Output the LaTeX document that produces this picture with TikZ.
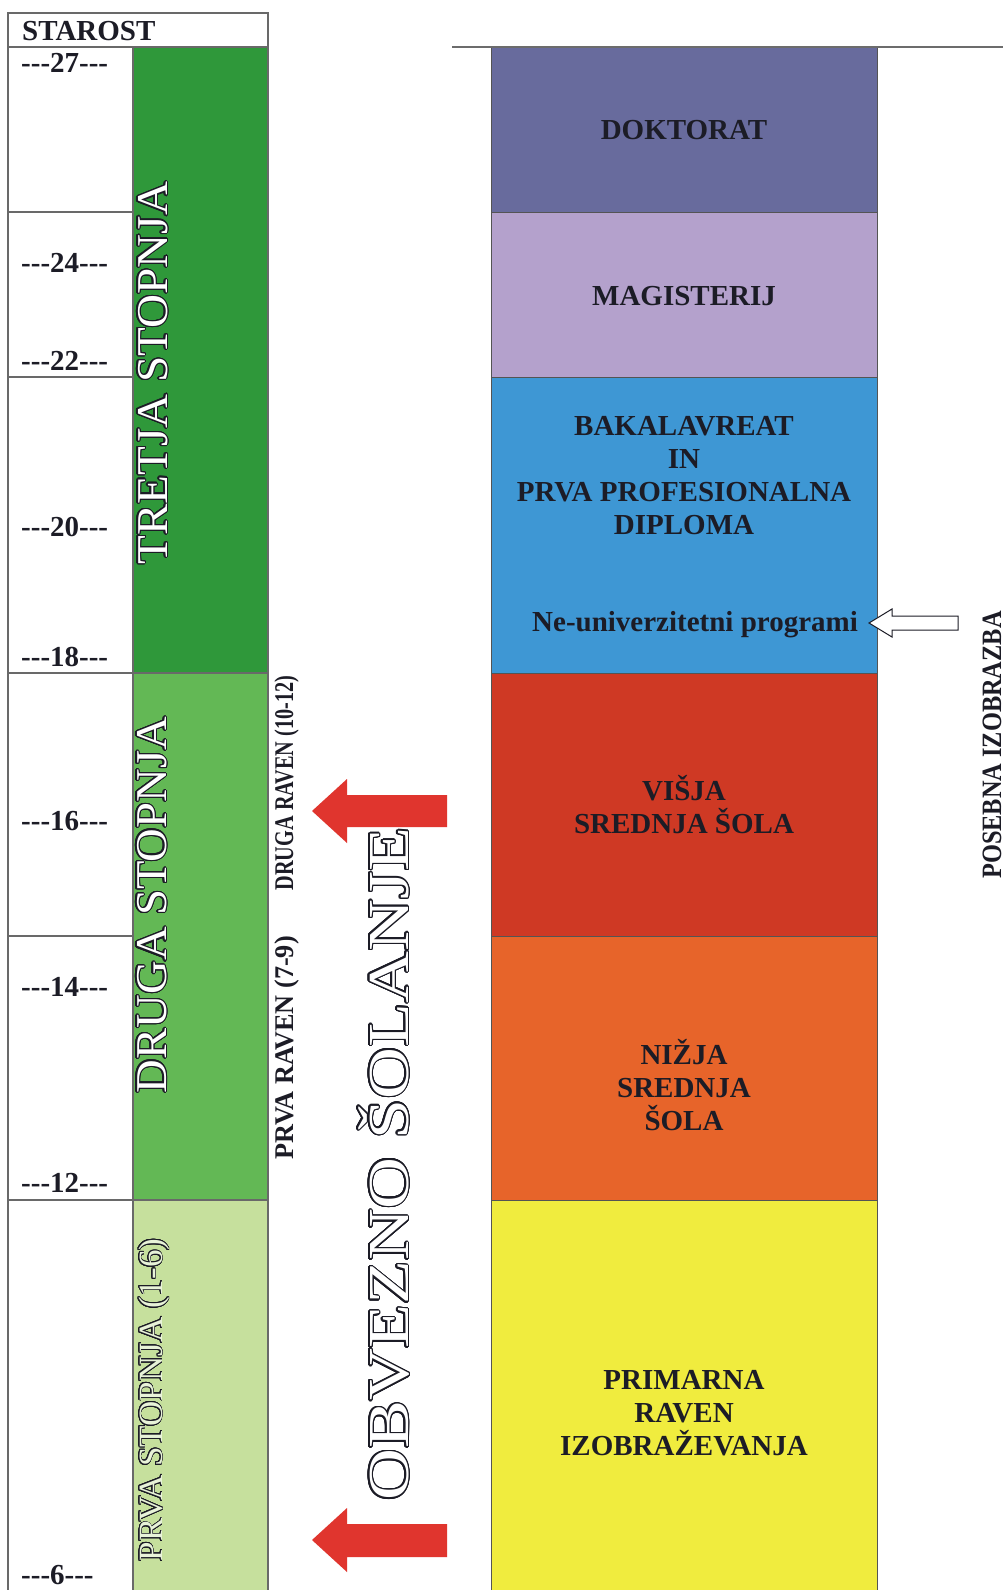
\documentclass[tikz,border=0pt]{standalone}
\usepackage{fontspec}
\usepackage{graphicx}
\usepackage{contour}
\newfontfamily\tms{Liberation Serif}
\contournumber{24}
\definecolor{doktc}{RGB}{104,107,157}
\definecolor{magc}{RGB}{180,161,204}
\definecolor{bakc}{RGB}{62,151,212}
\definecolor{visc}{RGB}{207,57,36}
\definecolor{nizc}{RGB}{231,100,42}
\definecolor{primc}{RGB}{240,236,62}
\definecolor{tretc}{RGB}{47,152,58}
\definecolor{drugc}{RGB}{99,184,85}
\definecolor{prvc}{RGB}{198,224,157}
\definecolor{arrowred}{RGB}{224,53,46}
\definecolor{txtc}{RGB}{28,28,38}
\definecolor{gridc}{RGB}{105,105,105}
\begin{document}
\begin{tikzpicture}[x=1pt,y=-1pt,
  gridl/.style={draw=gridc, line width=1.2pt},
  boxs/.style={draw=gridc!80!black, line width=1pt},
  lbl/.style={font=\tms\bfseries\fontsize{29}{33}\selectfont, text=txtc, align=center, inner sep=0pt},
  age/.style={font=\tms\bfseries\fontsize{29}{33}\selectfont, text=txtc, anchor=west, inner sep=0pt},
  vlbl/.style={rotate=90, anchor=base, inner sep=0pt, text=txtc},
  otext/.style={rotate=90, anchor=base, inner sep=0pt, text=white}
]
\clip (0,0) rectangle (1008,1590);
\fill[white] (0,0) rectangle (1008,1590);
% left table fills
\fill[tretc] (133,47) rectangle (268,673);
\fill[drugc] (133,673) rectangle (268,1200);
\fill[prvc] (133,1200) rectangle (268,1600);
% left table lines
\draw[gridl] (8,1600) -- (8,13) -- (268,13) -- (268,1600);
\draw[gridl] (8,47) -- (268,47);
\draw[gridl] (133,47) -- (133,1600);
\foreach \yy in {212,377,673,936,1200} \draw[gridl] (8,\yy) -- (133,\yy);
\draw[gridl] (133,673) -- (268,673);
\draw[gridl] (133,1200) -- (268,1200);
% right column boxes
\filldraw[boxs, fill=doktc] (491,47) rectangle (877,212);
\filldraw[boxs, fill=magc] (491,212) rectangle (877,377);
\filldraw[boxs, fill=bakc] (491,377) rectangle (877,673);
\filldraw[boxs, fill=visc] (491,673) rectangle (877,936);
\filldraw[boxs, fill=nizc] (491,936) rectangle (877,1200);
\filldraw[boxs, fill=primc] (491,1200) rectangle (877,1600);
\draw[gray!85!black, line width=2pt] (452,47) -- (1003,47);
% header
\node[age] (star) at (22,31) {STAROST};
% ages
\node[age] (a27) at (21,63) {---27---};
\node[age] (a24) at (21,263) {---24---};
\node[age] (a22) at (21,361) {---22---};
\node[age] (a20) at (21,527) {---20---};
\node[age] (a18) at (21,657) {---18---};
\node[age] (a16) at (21,821) {---16---};
\node[age] (a14) at (21,987) {---14---};
\node[age] (a12) at (21,1183) {---12---};
\node[age] (a6) at (21,1575) {---6---};
% right column labels
\node[lbl] (dok) at (684,130) {DOKTORAT};
\node[lbl] (mag) at (684,296) {MAGISTERIJ};
\node[lbl] (bak) at (684,476) {BAKALAVREAT\\IN\\PRVA PROFESIONALNA\\DIPLOMA};
\node[lbl] (neu) at (695,625) {Ne-univerzitetni programi};
\node[lbl] (vis) at (684,805) {VIŠJA\\SREDNJA ŠOLA};
\node[lbl] (niz) at (684,1085) {NIŽJA\\SREDNJA\\ŠOLA};
\node[lbl] (prim) at (684,1413) {PRIMARNA\\RAVEN\\IZOBRAŽEVANJA};
% outline stage labels
\contourlength{1.1pt}
\node[otext, font=\tms\fontsize{44}{44}\selectfont] (tret) at (167,373) {\scalebox{1.07}[1]{\contour{txtc}{TRETJA STOPNJA}}};
\node[otext, font=\tms\fontsize{44}{44}\selectfont] (drug) at (166,905) {\scalebox{1.06}[1]{\contour{txtc}{DRUGA STOPNJA}}};
\contourlength{0.9pt}
\node[otext, text=prvc!40!white, font=\tms\fontsize{34}{34}\selectfont] (prva) at (162,1400) {\scalebox{1.03}[1]{\contour{txtc}{PRVA STOPNJA (1-6)}}};
\contourlength{1.2pt}
\node[otext, font=\tms\fontsize{58}{58}\selectfont] (obv) at (408,1164) {\scalebox{1.24}[1]{\contour{txtc}{OBVEZNO ŠOLANJE}}};
% small vertical labels
\node[vlbl, font=\tms\bfseries\fontsize{27}{27}\selectfont] (dr) at (293,783) {\scalebox{0.75}[1]{DRUGA RAVEN (10-12)}};
\node[vlbl, font=\tms\bfseries\fontsize{27}{27}\selectfont] (pr) at (293,1048) {\scalebox{0.97}[1]{PRVA RAVEN (7-9)}};
\node[vlbl, font=\tms\bfseries\fontsize{28}{28}\selectfont] (pos) at (1001,745) {\scalebox{0.87}[1]{POSEBNA IZOBRAZBA}};
% red arrows
\fill[arrowred] (447,795) -- (347,795) -- (347,779) -- (312,811) -- (347,843) -- (347,827) -- (447,827) -- cycle;
\fill[arrowred] (447,1524) -- (347,1524) -- (347,1508) -- (312,1540) -- (347,1572) -- (347,1557) -- (447,1557) -- cycle;
% white arrow
\draw[txtc, fill=white, line width=1pt, line join=miter] (958,616) -- (892,616) -- (892,609) -- (869,623) -- (892,637) -- (892,630) -- (958,630) -- cycle;
\end{tikzpicture}
\end{document}
